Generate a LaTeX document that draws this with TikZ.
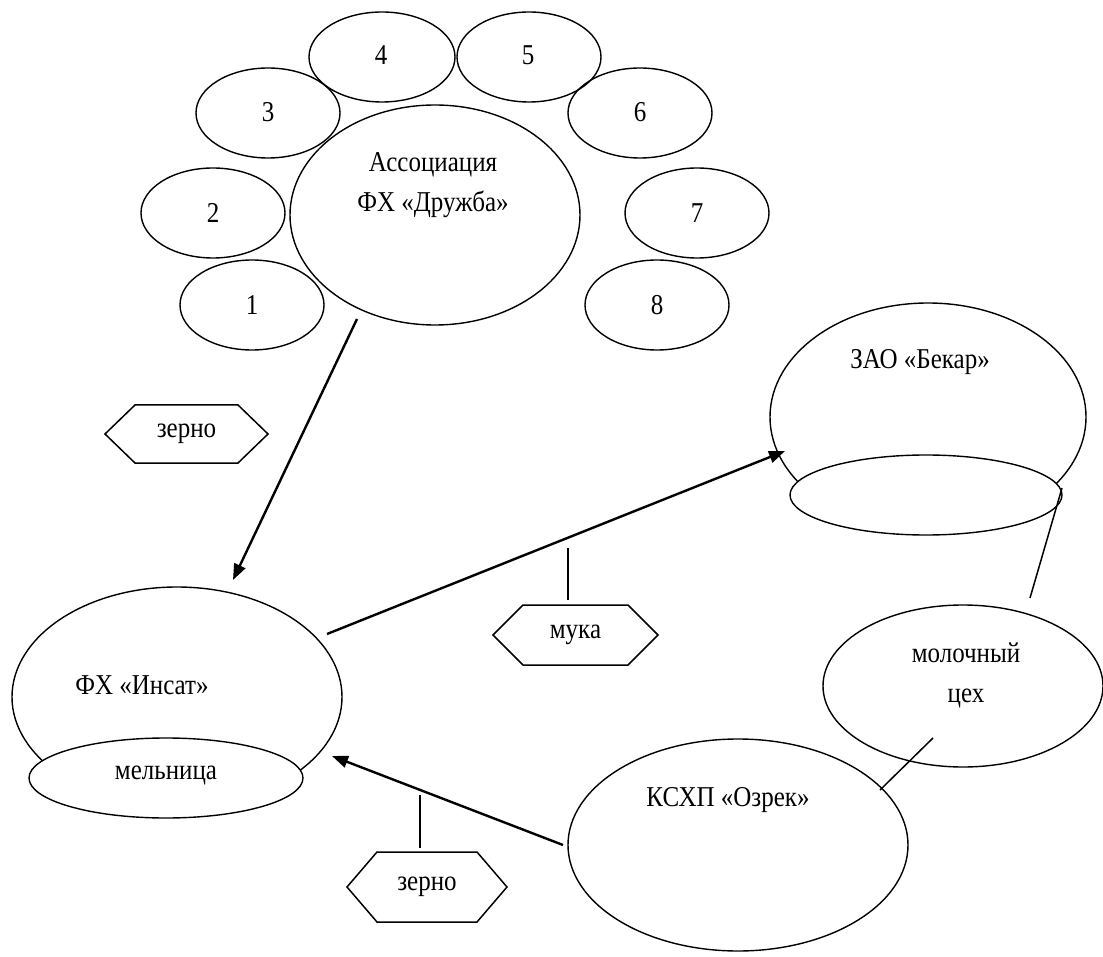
\documentclass[tikz,border=0pt]{standalone}
\usepackage{fontspec}
\usepackage{graphicx}
\setmainfont{Liberation Serif}
\usetikzlibrary{arrows.meta,shapes.geometric}
\newcommand{\ys}[1]{\scalebox{1}[1.15]{#1}}
\newcommand{\hexnode}[6]{%
  \node[txt] (#1) at (#2,#3) {\ys{#6}};
  \draw[ln] ({#2-#4-30},#3) -- ({#2-#4},{#3-#5}) -- ({#2+#4},{#3-#5}) -- ({#2+#4+30},#3) -- ({#2+#4},{#3+#5}) -- ({#2-#4},{#3+#5}) -- cycle;
}
\begin{document}
\begin{tikzpicture}[x=1pt,y=-1pt,
  ell/.style={draw,ellipse,inner sep=0pt,line width=1.4pt},
  txt/.style={font=\fontsize{25}{40}\selectfont,align=center,inner sep=0pt},
  arr/.style={line width=2.4pt,-{Triangle[length=16pt,width=12pt]}},
  ln/.style={line width=1.5pt}]
\useasboundingbox (0,0) rectangle (1103,957);

% central association
\node[ell,minimum width=290,minimum height=220] (assoc) at (435,215) {};
\node[txt] (assoctxt) at (433,185) {\ys{Ассоциация}\\\ys{ФХ «Дружба»}};

% small ellipses
\node[ell,minimum width=144,minimum height=90] (e1) at (252,305) {};
\node[ell,minimum width=144,minimum height=90] (e2) at (213,213) {};
\node[ell,minimum width=144,minimum height=90] (e3) at (268,113) {};
\node[ell,minimum width=146,minimum height=90] (e4) at (382,57) {};
\node[ell,minimum width=144,minimum height=90] (e5) at (529,57) {};
\node[ell,minimum width=144,minimum height=90] (e6) at (640,113) {};
\node[ell,minimum width=144,minimum height=90] (e7) at (697,213) {};
\node[ell,minimum width=144,minimum height=90] (e8) at (657,305) {};
\node[txt] (t1) at (252,305) {\ys{1}};
\node[txt] (t2) at (213,213) {\ys{2}};
\node[txt] (t3) at (268,112) {\ys{3}};
\node[txt] (t4) at (381,55) {\ys{4}};
\node[txt] (t5) at (528,55) {\ys{5}};
\node[txt] (t6) at (640,112) {\ys{6}};
\node[txt] (t7) at (697,213) {\ys{7}};
\node[txt] (t8) at (657,305) {\ys{8}};

% Insat
\node[ell,minimum width=330,minimum height=220] (insat) at (177,697) {};
\node[txt] (insattxt) at (142,685) {\ys{ФХ «Инсат»}};
\node[ell,fill=white,minimum width=274,minimum height=80] (mill) at (166,778) {};
\node[txt] (milltxt) at (166,776) {\ys{мельница}};

% Bekar
\node[ell,minimum width=316,minimum height=228] (bekar) at (928,417) {};
\node[txt] (bekartxt) at (920,362) {\ys{ЗАО «Бекар»}};
\node[ell,fill=white,minimum width=272,minimum height=80] (bekarin) at (926,495) {};

% milk shop
\node[ell,minimum width=280,minimum height=162] (milk) at (963,686) {};
\node[txt] (milktxt) at (966,675) {\ys{молочный}\\\ys{цех}};

% Ozrek
\node[ell,minimum width=340,minimum height=212] (ozrek) at (738,845) {};
\node[txt] (ozrektxt) at (728,800) {\ys{КСХП «Озрек»}};

% hexagon labels
\hexnode{h1}{186.5}{434}{51.5}{29}{зерно}
\hexnode{h2}{575.5}{635}{52.5}{30}{мука}
\hexnode{h3}{427}{887}{50}{35}{зерно}

% connector end points
\coordinate (a1s) at (357,319);
\coordinate (a1e) at (233,580);
\coordinate (a2s) at (327,634);
\coordinate (a2e) at (785,451);
\coordinate (a3s) at (563,845);
\coordinate (a3e) at (332,756);
\coordinate (b1) at (1062,488);
\coordinate (b2) at (1030,598);
\coordinate (m1) at (933,738);
\coordinate (m2) at (880,790);
\coordinate (k2) at (568,548);
\coordinate (k3) at (420,795);

\draw[arr] (a1s) -- (a1e);
\draw[arr] (a2s) -- (a2e);
\draw[arr] (a3s) -- (a3e);
\draw[ln] (b1) -- (b2);
\draw[ln] (m1) -- (m2);
\draw[ln] (k2) -- ++(0,52);
\draw[ln] (k3) -- ++(0,53);
\end{tikzpicture}
\end{document}
